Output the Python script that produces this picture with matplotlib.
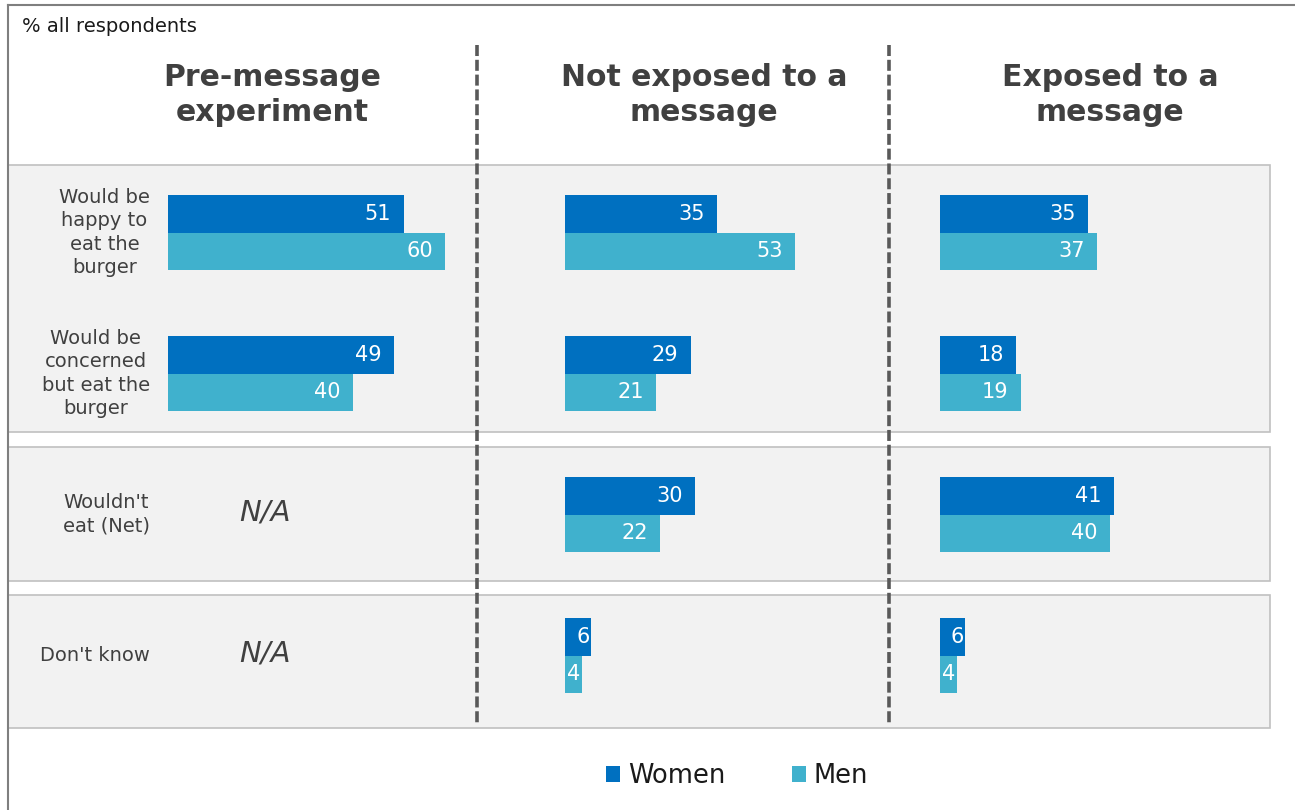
import matplotlib
matplotlib.use("Agg")
import matplotlib.pyplot as plt
from matplotlib.patches import Rectangle, Patch

plt.rcParams['font.family'] = ['DejaVu Sans']

# ---- data ----
categories = ["Would be\nhappy to\neat the\nburger",
              "Would be\nconcerned\nbut eat the\nburger",
              "Wouldn't\neat (Net)",
              "Don't know"]
column_titles = ["Pre-message\nexperiment",
                 "Not exposed to a\nmessage",
                 "Exposed to a\nmessage"]
women_pre = [51, 49, None, None]
men_pre = [60, 40, None, None]
women_not_exposed = [35, 29, 30, 6]
men_not_exposed = [53, 21, 22, 4]
women_exposed = [35, 18, 41, 6]
men_exposed = [37, 19, 40, 4]
series_names = ["Women", "Men"]

WOMEN_C = "#0070C0"
MEN_C = "#40B1CD"
PANEL_C = "#F2F2F2"
PANEL_EDGE = "#C0C0C0"
TEXT_C = "#404040"

W, H = 1295, 810
fig = plt.figure(figsize=(W / 100, H / 100), dpi=100)

# background layer in pixel units
bg = fig.add_axes([0, 0, 1, 1])
bg.set_xlim(0, W)
bg.set_ylim(H, 0)
bg.axis("off")

# shaded row panels
for top, bottom in [(165, 432), (447, 581), (595, 728)]:
    bg.add_patch(Rectangle((8, top), 1270 - 8, bottom - top,
                           facecolor=PANEL_C, edgecolor=PANEL_EDGE, lw=1.2, zorder=1))

# outer frame
bg.plot([8, W], [5, 5], color="#7F7F7F", lw=1.5, zorder=3)
bg.plot([8, 8], [5, H], color="#7F7F7F", lw=1.5, zorder=3)

bg.text(22, 26, "% all respondents", fontsize=14, color="#1A1A1A",
        ha="left", va="center")

# column separators
for x in (477, 889):
    bg.plot([x, x], [45, 725], color="#595959", lw=2.6,
            dashes=(3.05, 1.05), zorder=4)

# column headers
for cx, title in zip((272, 704, 1110), column_titles):
    bg.text(cx, 95, title, fontsize=21.5, fontweight="bold", color=TEXT_C,
            ha="center", va="center", multialignment="center", linespacing=1.28)

# row geometry
row0, row_step = 232.5, 141.0
for i, cat in enumerate(categories):
    bg.text(150, row0 + row_step * i, cat, fontsize=14, color=TEXT_C,
            ha="right", va="center", multialignment="center", linespacing=1.3)

# bar panels, one per column
col_left = [168, 565, 940]
col_scale = [4.62, 4.34, 4.24]    # pixels per percentage point
col_data = [(women_pre, men_pre),
            (women_not_exposed, men_not_exposed),
            (women_exposed, men_exposed)]
ax_w = 300
y_top = (165 - row0) / row_step
y_bot = (728 - row0) / row_step
bh = 37.5 / row_step

for left, scale, (wv, mv) in zip(col_left, col_scale, col_data):
    ax = fig.add_axes([left / W, 1 - 728 / H, ax_w / W, (728 - 165) / H])
    ax.set_xlim(0, ax_w / scale)
    ax.set_ylim(y_bot, y_top)
    ax.axis("off")
    ax.patch.set_alpha(0)
    for i in range(len(categories)):
        if wv[i] is None:
            bg.text(265, row0 + row_step * i - 2, "N/A", fontsize=21, style="italic",
                    color=TEXT_C, ha="center", va="center")
            continue
        for val, off, c in ((wv[i], -bh / 2, WOMEN_C), (mv[i], bh / 2, MEN_C)):
            ax.barh(i + off, val, height=bh, color=c, edgecolor="none")
            if val >= 10:
                ax.annotate(str(val), (val, i + off), xytext=(-9, 0),
                            textcoords="offset points", ha="right", va="center",
                            fontsize=15, color="white")
            else:
                ax.annotate(str(val), (val, i + off), xytext=(-6, 0),
                            textcoords="offset points", ha="center", va="center",
                            fontsize=15, color="white")

handles = [Patch(facecolor=WOMEN_C), Patch(facecolor=MEN_C)]
bg.legend(handles, series_names, loc="center", bbox_to_anchor=(737 / W, 1 - 776 / H),
          bbox_transform=fig.transFigure, ncol=2, frameon=False, fontsize=18.5,
          handlelength=0.55, handleheight=0.55, handletextpad=0.3, columnspacing=2.6,
          labelcolor="#1A1A1A")

fig.savefig("out.png", dpi=100, facecolor="white")
